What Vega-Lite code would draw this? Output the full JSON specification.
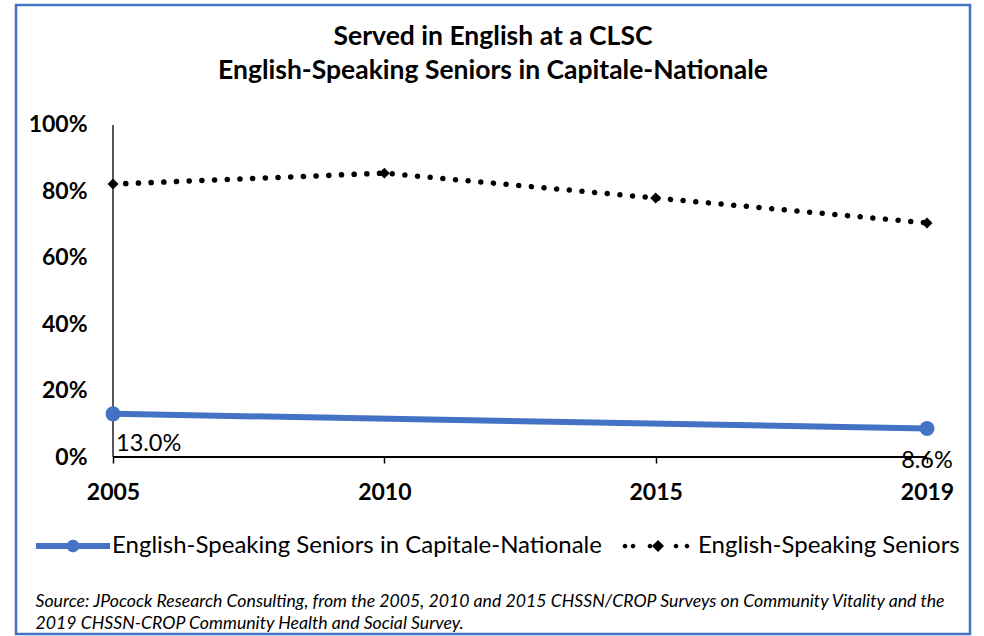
{
  "$schema": "https://vega.github.io/schema/vega-lite/v6.json",
  "width": 954,
  "height": 629,
  "autosize": {"type": "none"},
  "padding": {"left": 16, "top": 5, "right": 14, "bottom": 2},
  "background": "white",
  "config": {
    "view": {"stroke": "#4472c4", "strokeWidth": 2.5},
    "font": "Lato",
    "legend": {
      "labelFont": "Lato",
      "labelFontSize": 24,
      "labelColor": "black",
      "symbolSize": 196,
      "symbolStrokeWidth": 0,
      "symbolOpacity": 1,
      "labelOffset": 27,
      "columnPadding": 20,
      "padding": 0,
      "labelLimit": 800
    }
  },
  "title": {
    "text": ["Served in English at a CLSC", "English-Speaking Seniors in Capitale-Nationale"],
    "orient": "top",
    "anchor": "middle",
    "offset": -79,
    "font": "Lato",
    "fontSize": 26.5,
    "fontWeight": "bold",
    "color": "black",
    "lineHeight": 34
  },
  "data": {
    "values": [
      {"year": "2005", "series": "English-Speaking Seniors in Capitale-Nationale", "value": 0.130},
      {"year": "2019", "series": "English-Speaking Seniors in Capitale-Nationale", "value": 0.086},
      {"year": "2005", "series": "English-Speaking Seniors", "value": 0.822},
      {"year": "2010", "series": "English-Speaking Seniors", "value": 0.855},
      {"year": "2015", "series": "English-Speaking Seniors", "value": 0.780},
      {"year": "2019", "series": "English-Speaking Seniors", "value": 0.705}
    ]
  },
  "encoding": {
    "x": {
      "field": "year",
      "type": "ordinal",
      "scale": {"type": "point", "domain": ["2005", "2010", "2015", "2019"], "padding": 0.258, "align": 0.693},
      "axis": {
        "orient": "bottom",
        "offset": -177,
        "domain": false,
        "ticks": true,
        "tickSize": 6,
        "tickWidth": 1.5,
        "tickColor": "black",
        "grid": false,
        "labelAngle": 0,
        "labelFont": "Lato",
        "labelFontSize": 23,
        "labelFontWeight": "bold",
        "labelColor": "black",
        "labelPadding": 18,
        "title": ["Source: JPocock Research Consulting, from the 2005, 2010  and 2015  CHSSN/CROP Surveys on Community Vitality and the", "2019  CHSSN-CROP Community Health and Social Survey."],
        "titleFont": "Lato",
        "titleFontSize": 17.7,
        "titleFontStyle": "italic",
        "titleFontWeight": "normal",
        "titleColor": "black",
        "titleAlign": "left",
        "titleAnchor": "start",
        "titleBaseline": "alphabetic",
        "titleX": 19,
        "titleY": 149,
        "titleLineHeight": 22
      }
    },
    "y": {
      "field": "value",
      "type": "quantitative",
      "scale": {"domain": [-0.5331, 1.3614], "nice": false, "zero": false},
      "axis": {
        "orient": "left",
        "offset": -75,
        "values": [0, 0.2, 0.4, 0.6, 0.8, 1],
        "format": ".0%",
        "domain": false,
        "ticks": false,
        "grid": false,
        "labelPadding": 4,
        "labelFont": "Lato",
        "labelFontSize": 23,
        "labelFontWeight": "bold",
        "labelColor": "black",
        "title": null
      }
    }
  },
  "layer": [
    {
      "mark": {"type": "rule", "color": "#595959", "strokeWidth": 1.5},
      "encoding": {
        "x": {"datum": "2005", "type": "ordinal"},
        "y": {"datum": 0},
        "y2": {"datum": 1}
      }
    },
    {
      "mark": {"type": "rule", "color": "black", "strokeWidth": 1.5},
      "encoding": {
        "x": {"datum": "2005", "type": "ordinal"},
        "x2": {"datum": "2019"},
        "y": {"datum": 0}
      }
    },
    {
      "transform": [{"filter": "datum.series === 'English-Speaking Seniors in Capitale-Nationale'"}],
      "mark": {"type": "line", "color": "#4472c4", "strokeWidth": 6, "strokeCap": "round"}
    },
    {
      "transform": [{"filter": "datum.series === 'English-Speaking Seniors in Capitale-Nationale'"}],
      "mark": {"type": "point", "shape": "circle", "filled": true, "color": "#4472c4", "size": 225, "opacity": 1}
    },
    {
      "transform": [{"filter": "datum.series === 'English-Speaking Seniors'"}],
      "mark": {"type": "line", "color": "black", "strokeWidth": 5.5, "strokeDash": [0.1, 12.6], "strokeCap": "round"}
    },
    {
      "transform": [{"filter": "datum.series === 'English-Speaking Seniors'"}],
      "mark": {"type": "point", "shape": "diamond", "filled": true, "color": "black", "size": 120, "opacity": 1}
    },
    {
      "transform": [{"filter": "datum.series === 'English-Speaking Seniors in Capitale-Nationale' && datum.year === '2005'"}],
      "mark": {"type": "text", "align": "left", "baseline": "middle", "dx": 3, "dy": 30, "font": "Lato", "fontSize": 23.5, "color": "black"},
      "encoding": {"text": {"field": "value", "format": ".1%"}}
    },
    {
      "transform": [{"filter": "datum.series === 'English-Speaking Seniors in Capitale-Nationale' && datum.year === '2019'"}],
      "mark": {"type": "text", "align": "center", "baseline": "middle", "dx": 0, "dy": 33, "font": "Lato", "fontSize": 23.5, "color": "black"},
      "encoding": {"text": {"field": "value", "format": ".1%"}}
    },
    {
      "mark": {"type": "point", "filled": true, "opacity": 0},
      "encoding": {
        "color": {
          "field": "series",
          "type": "nominal",
          "scale": {"domain": ["English-Speaking Seniors in Capitale-Nationale", "English-Speaking Seniors"], "range": ["#4472c4", "black"]},
          "legend": {"orient": "none", "legendX": 45, "legendY": 529, "direction": "horizontal", "title": null}
        },
        "shape": {
          "field": "series",
          "type": "nominal",
          "scale": {
            "domain": ["English-Speaking Seniors in Capitale-Nationale", "English-Speaking Seniors"],
            "range": [
              "M-5.3,-0.43L5.3,-0.43L5.3,0.43L-5.3,0.43Z M0.9,0A0.9,0.9 0 1,1 -0.9,0A0.9,0.9 0 1,1 0.9,0Z",
              "M-4.53,0A0.33,0.33 0 1,1 -5.19,0A0.33,0.33 0 1,1 -4.53,0Z M-3.38,0A0.33,0.33 0 1,1 -4.04,0A0.33,0.33 0 1,1 -3.38,0Z M-0.96,0A0.33,0.33 0 1,1 -1.62,0A0.33,0.33 0 1,1 -0.96,0Z M2.76,0A0.33,0.33 0 1,1 2.1,0A0.33,0.33 0 1,1 2.76,0Z M4.33,0A0.33,0.33 0 1,1 3.67,0A0.33,0.33 0 1,1 4.33,0Z M-0.14,-0.86L0.72,0L-0.14,0.86L-1,0Z"
            ]
          },
          "legend": {"orient": "none", "legendX": 45, "legendY": 529, "direction": "horizontal", "title": null}
        }
      }
    }
  ]
}
